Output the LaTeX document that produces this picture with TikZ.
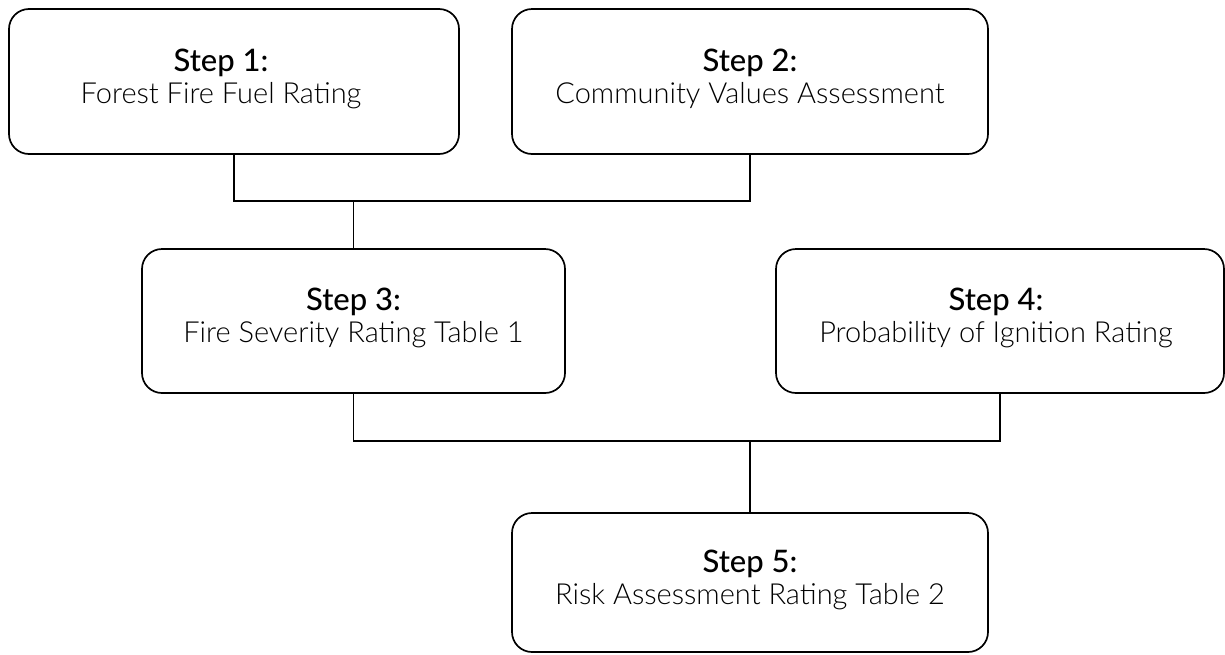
\documentclass[tikz,border=0pt]{standalone}
\usepackage{fontspec}
\setmainfont{Lato}
\newfontfamily\stepfont{Lato Medium}
\newfontfamily\descfont{Lato Light}
\newcommand{\steptext}[3][0pt]{{\stepfont\fontsize{31}{32}\selectfont\rule{0pt}{22pt}#2}\hspace*{#1}\\{\descfont #3\rule[-11pt]{0pt}{11pt}}\hspace*{#1}}
\begin{document}
\begin{tikzpicture}[x=1pt,y=-1pt,
  box/.style={draw=black, line width=1.7pt, rounded corners=20pt, align=center, inner sep=0pt,
    font=\fontsize{29}{32}\selectfont},
  conn/.style={draw=black, line width=1.7pt}]
\useasboundingbox (0,0) rectangle (1225,654);
\node[box, minimum width=450pt, minimum height=145pt] (b1) at (234,81.5) {\steptext[26pt]{Step 1:}{Forest Fire Fuel Rating}};
\node[box, minimum width=476pt, minimum height=145pt] (b2) at (750,81.5) {\steptext{Step 2:}{Community Values Assessment}};
\node[box, minimum width=423pt, minimum height=144pt] (b3) at (353.5,321) {\steptext{Step 3:}{Fire Severity Rating Table 1}};
\node[box, minimum width=448pt, minimum height=144pt] (b4) at (1000,321) {\steptext[8pt]{Step 4:}{Probability of Ignition Rating}};
\node[box, minimum width=476pt, minimum height=139pt] (b5) at (750,582.5) {\steptext{Step 5:}{Risk Assessment Rating Table 2}};
\coordinate (j1) at (353.5,201);
\coordinate (j2) at (750,441);
\draw[conn] (b1.south) |- (j1) -| (b2.south);
\draw[conn] (j1) -- (b3.north);
\draw[conn] (b3.south) |- (j2) -| (b4.south);
\draw[conn] (j2) -- (b5.north);
\end{tikzpicture}
\end{document}
